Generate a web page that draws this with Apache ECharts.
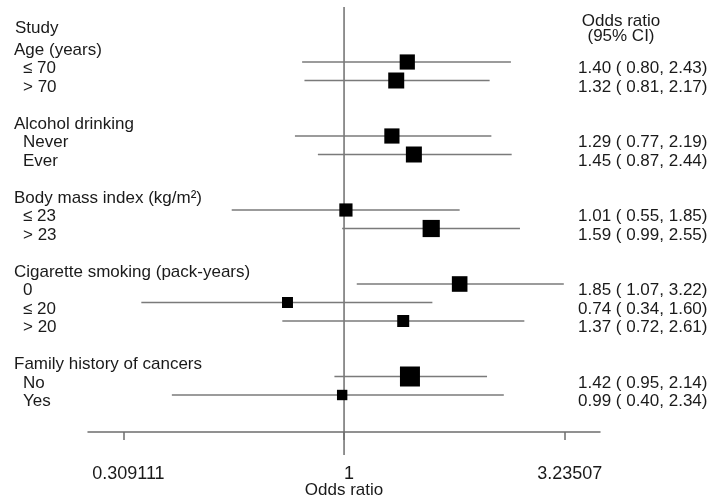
<!DOCTYPE html>
<html>
<head>
<meta charset="utf-8">
<script src="https://cdn.jsdelivr.net/npm/echarts@6/dist/echarts.min.js"></script>
<style>
  html, body { margin: 0; padding: 0; background: #ffffff; }
  #chart { width: 715px; height: 499px; }
</style>
</head>
<body>
<div id="chart"></div>
<script>
// Subgroup odds ratios with 95% confidence intervals (forest plot)
const groups = ['Age (years)', 'Alcohol drinking', 'Body mass index (kg/m²)', 'Cigarette smoking (pack-years)', 'Family history of cancers'];
const subgroups = [
  ['≤ 70', '> 70'],
  ['Never', 'Ever'],
  ['≤ 23', '> 23'],
  ['0', '≤ 20', '> 20'],
  ['No', 'Yes']
];
const oddsRatio = [1.40, 1.32, 1.29, 1.45, 1.01, 1.59, 1.85, 0.74, 1.37, 1.42, 0.99];
const ciLower   = [0.80, 0.81, 0.77, 0.87, 0.55, 0.99, 1.07, 0.34, 0.72, 0.95, 0.40];
const ciUpper   = [2.43, 2.17, 2.19, 2.44, 1.85, 2.55, 3.22, 1.60, 2.61, 2.14, 2.34];
// relative study weight (box size relative to the largest box)
const weights   = [0.76, 0.80, 0.76, 0.80, 0.66, 0.86, 0.78, 0.55, 0.60, 1.00, 0.52];
const tickLabels = ['0.309111', '1', '3.23507'];

const TICK_BASE = 3.23507;
const X_MIN = 0.256, X_MAX = 3.904;
const BOX_MAX = 20;
const FONT = 'Liberation Sans, Arial, sans-serif';
const TEXT_COLOR = '#1a1a1a';
const LINE_COLOR = '#7a7a7a';
const FS = 17;

// Lay out rows: group header, its subgroups, then a blank spacer row
const rows = [];
const points = [];
let k = 0, s = 0;
groups.forEach((g, gi) => {
  rows.push({ label: g, header: true, k: k++ });
  subgroups[gi].forEach(lbl => {
    rows.push({ label: lbl, header: false, k: k, idx: s });
    points.push([oddsRatio[s], k, ciLower[s], ciUpper[s], weights[s]]);
    k++; s++;
  });
  k++;
});
const ROW_MIN = -1, ROW_MAX = k;

const W = 715, H = 499;
const gridLeft = 88, gridRight = 115, gridTop = 25, gridBottom = 67;
const plotW = W - gridLeft - gridRight;
// the tick grid spans exactly [1/base, base] inside the main log range
const lnSpan = Math.log(X_MAX) - Math.log(X_MIN);
const tickLeft = gridLeft + plotW * (Math.log(1 / TICK_BASE) - Math.log(X_MIN)) / lnSpan;
const tickW = plotW * (2 * Math.log(TICK_BASE)) / lnSpan;

const chart = echarts.init(document.getElementById('chart'), null, { renderer: 'canvas' });

chart.setOption({
  animation: false,
  backgroundColor: '#ffffff',
  grid: [
    { left: gridLeft, right: gridRight, top: gridTop, bottom: gridBottom, outerBoundsMode: 'none' },
    { left: tickLeft, width: tickW, top: gridTop, bottom: gridBottom, outerBoundsMode: 'none' },
    { left: gridLeft, right: gridRight, top: 7, bottom: 44, outerBoundsMode: 'none' }
  ],
  xAxis: [
    {
      gridIndex: 0, type: 'log', min: X_MIN, max: X_MAX, position: 'bottom',
      axisLine: { show: true, onZero: false, lineStyle: { color: '#6e6e6e', width: 1.5 } },
      axisTick: { show: false }, axisLabel: { show: false }, splitLine: { show: false },
      name: 'Odds ratio', nameLocation: 'middle', nameGap: 50,
      nameTextStyle: { fontFamily: FONT, fontSize: FS, color: TEXT_COLOR }
    },
    {
      gridIndex: 1, type: 'log', logBase: TICK_BASE, min: 1 / TICK_BASE, max: TICK_BASE, position: 'bottom',
      axisLine: { show: false, onZero: false },
      axisTick: { show: true, length: 8, lineStyle: { color: '#6e6e6e', width: 1.5 } },
      axisLabel: {
        show: true, margin: 33, fontFamily: FONT, fontSize: 18, color: TEXT_COLOR,
        padding: [0, 0, 0, 10],
        showMinLabel: true, showMaxLabel: true,
        formatter: v => tickLabels[Math.round(Math.log(v) / Math.log(TICK_BASE)) + 1]
      },
      splitLine: { show: false }
    },
    {
      gridIndex: 2, type: 'log', min: X_MIN, max: X_MAX, show: false
    }
  ],
  yAxis: [
    { gridIndex: 0, type: 'value', min: ROW_MIN, max: ROW_MAX, inverse: true, show: false },
    { gridIndex: 1, type: 'value', min: 0, max: 1, show: false },
    { gridIndex: 2, type: 'value', min: 0, max: 1, show: false }
  ],
  series: [
    {
      // line of no effect at OR = 1
      type: 'line', xAxisIndex: 2, yAxisIndex: 2,
      data: [[1, 0], [1, 1]], symbol: 'none', silent: true,
      lineStyle: { color: '#6e6e6e', width: 1.5 }, z: 1
    },
    {
      type: 'custom', xAxisIndex: 0, yAxisIndex: 0, z: 2,
      data: points,
      encode: { x: [0, 2, 3], y: 1 },
      renderItem: function (params, api) {
        const row = api.value(1);
        const a = api.coord([api.value(2), row]);
        const b = api.coord([api.value(3), row]);
        const c = api.coord([api.value(0), row]);
        const sz = api.value(4) * BOX_MAX;
        return {
          type: 'group',
          children: [
            { type: 'line', shape: { x1: a[0], y1: a[1], x2: b[0], y2: b[1] },
              style: { stroke: LINE_COLOR, lineWidth: 1.5 } },
            { type: 'rect', shape: { x: c[0] - sz / 2, y: c[1] - sz / 2, width: sz, height: sz },
              style: { fill: '#000000' } }
          ]
        };
      }
    }
  ]
});

// Row labels on the left and estimates on the right, aligned to the row scale
const graphics = [];
const txt = (text, x, y, align) => ({
  type: 'text', x: x, y: y, silent: true,
  style: { text: text, fontFamily: FONT, fontSize: FS, fill: TEXT_COLOR, align: align || 'left', verticalAlign: 'middle' }
});
graphics.push(txt('Study', 15, 28));
graphics.push(txt('Odds ratio', 621, 21, 'center'));
graphics.push(txt('(95% CI)', 621, 36, 'center'));
rows.forEach(r => {
  const y = chart.convertToPixel({ yAxisIndex: 0 }, r.k) + 6.5;
  graphics.push(txt(r.label, r.header ? 14 : 23, y));
  if (!r.header) {
    const i = r.idx;
    const t = oddsRatio[i].toFixed(2) + ' ( ' + ciLower[i].toFixed(2) + ', ' + ciUpper[i].toFixed(2) + ')';
    graphics.push(txt(t, 578, y));
  }
});
chart.setOption({ graphic: graphics });
</script>
</body>
</html>
